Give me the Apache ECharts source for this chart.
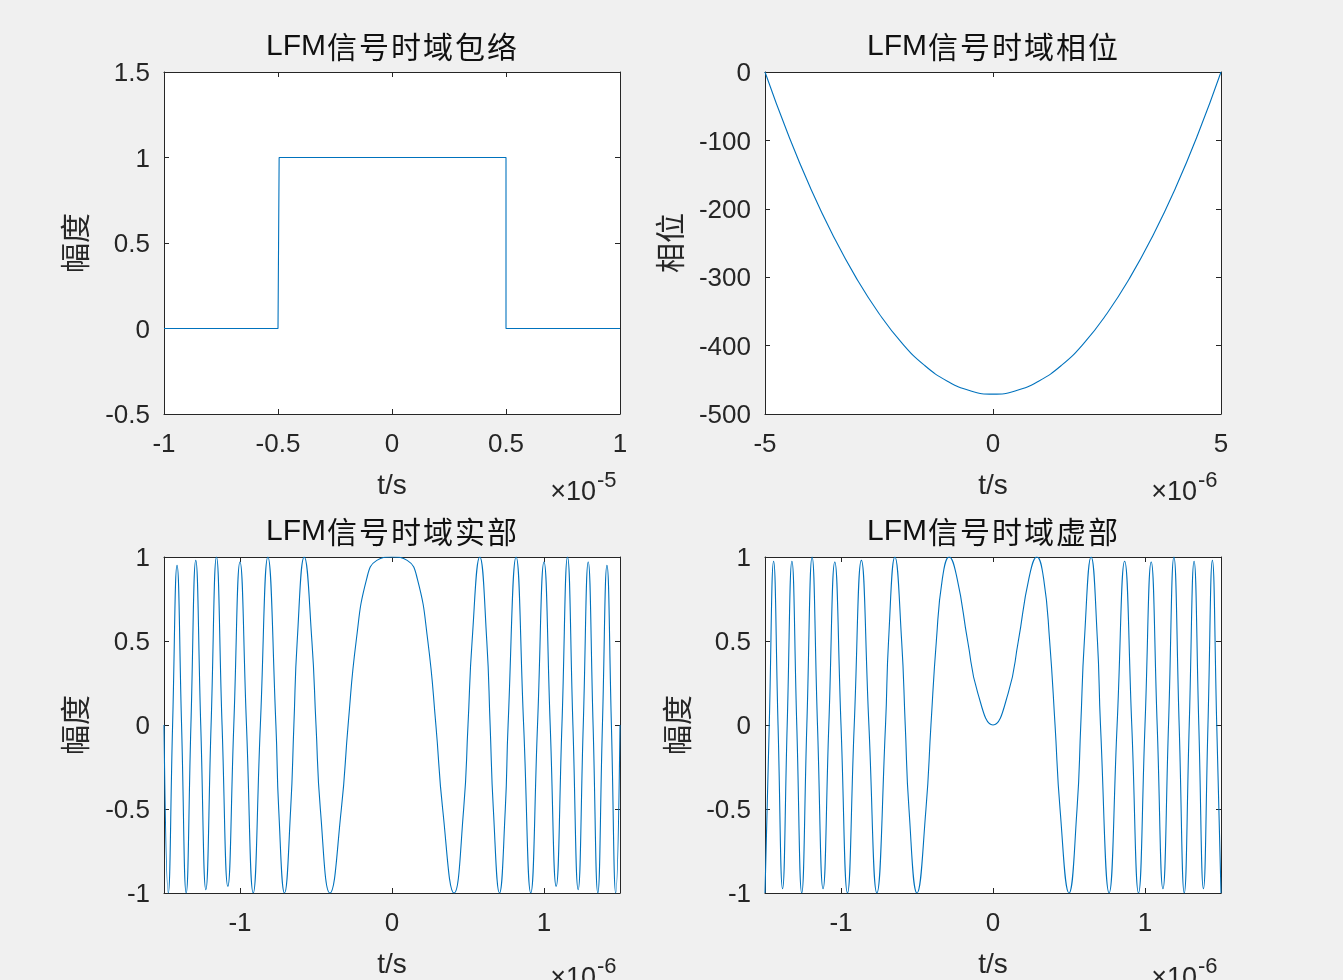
<!DOCTYPE html>
<html><head><meta charset="utf-8">
<script src="https://cdn.jsdelivr.net/npm/echarts/dist/echarts.min.js"></script>
<style>html,body{margin:0;padding:0;background:#f0f0f0;}#c{width:1343px;height:980px;}</style>
</head><body><div id="c"></div>
<script>
// ---------------- data ----------------
const titles = ['LFM信号时域包络', 'LFM信号时域相位', 'LFM信号时域实部', 'LFM信号时域虚部'];
const yNames = ['幅度', '相位', '幅度', '幅度'];
const xName = 't/s';
const expLabels = ['-5', '-6', '-6', '-6'];

// tick values
const xTicks1 = [-1, -0.5, 0, 0.5, 1];
const yTicks1 = [-0.5, 0, 0.5, 1, 1.5];
const xTicks2 = [-5, 0, 5];
const yTicks2 = [-500, -400, -300, -200, -100, 0];
const xTicks3 = [-1, 0, 1];
const yTicks3 = [-1, -0.5, 0, 0.5, 1];

// envelope (t in 1e-5 s)
const envT = [-1, -0.5, -0.495, 0.5, 0.5, 1];
const envA = [0, 0, 1, 1, 0, 0];

// phase (t in 1e-6 s)
const phaseT = [-5, -4.5, -4, -3.5, -3, -2.5, -2, -1.5, -1, -0.5, 0, 0.5, 1, 1.5, 2, 2.5, 3, 3.5, 4, 4.5, 5];
const phaseV = [0, -90, -170, -240, -301, -353, -396, -429, -452, -466, -471, -466, -452, -429, -396, -353, -301, -240, -170, -90, 0];

// real part (t in 1e-6 s): extrema, zero crossings and a few half-level points
const realT = [-1.5, -1.472, -1.4434, -1.4142, -1.3844, -1.354, -1.3229, -1.291, -1.2583, -1.2247, -1.1902, -1.1547, -1.118, -1.0801, -1.0408, -1.0, -0.9574, -0.9129, -0.866, -0.8165, -0.7638, -0.7454, -0.7071, -0.6667, -0.6455, -0.6236, -0.5774, -0.527, -0.5, -0.4714, -0.4082, -0.3333, -0.2887, -0.2357, -0.1667, -0.1,
  0,
  0.1, 0.1667, 0.2357, 0.2887, 0.3333, 0.4082, 0.4714, 0.5, 0.527, 0.5774, 0.6236, 0.6455, 0.6667, 0.7071, 0.7454, 0.7638, 0.8165, 0.866, 0.9129, 0.9574, 1.0, 1.0408, 1.0801, 1.118, 1.1547, 1.1902, 1.2247, 1.2583, 1.291, 1.3229, 1.354, 1.3844, 1.4142, 1.4434, 1.472, 1.5];
const realV = [0, -1, 0, 0.95, 0, -1, 0, 0.98, 0, -0.98, 0, 1, 0, -0.96, 0, 0.97, 0, -1, 0, 1, 0, -0.5, -1, -0.5, 0, 0.5, 1, 0.5, 0, -0.5, -1, -0.5, 0, 0.5, 0.87, 0.98,
  1,
  0.98, 0.87, 0.5, 0, -0.5, -1, -0.5, 0, 0.5, 1, 0.5, 0, -0.5, -1, -0.5, 0, 1, 0, -1, 0, 0.97, 0, -0.96, 0, 1, 0, -0.98, 0, 0.97, 0, -1, 0, 0.95, 0, -1, 0];

// imaginary part (t in 1e-6 s)
const imagT = [-1.5, -1.472, -1.4434, -1.4142, -1.3844, -1.354, -1.3229, -1.291, -1.2583, -1.2247, -1.1902, -1.1547, -1.118, -1.0801, -1.0408, -1.0, -0.9574, -0.9129, -0.866, -0.8165, -0.7638, -0.7071, -0.6872, -0.6455, -0.601, -0.5774, -0.5528, -0.5, -0.441, -0.4082, -0.3727, -0.3333, -0.2887, -0.2357, -0.1667, -0.1,
  0,
  0.1, 0.1667, 0.2357, 0.2887, 0.3333, 0.3727, 0.4082, 0.441, 0.5, 0.5528, 0.5774, 0.601, 0.6455, 0.6872, 0.7071, 0.7638, 0.8165, 0.866, 0.9129, 0.9574, 1.0, 1.0408, 1.0801, 1.118, 1.1547, 1.1902, 1.2247, 1.2583, 1.291, 1.3229, 1.354, 1.3844, 1.4142, 1.4434, 1.472, 1.5];
const imagV = [-1, 0, 0.975, 0, -0.975, 0, 0.975, 0, -1, 0, 1, 0, -0.975, 0, 0.97, 0, -1, 0, 0.98, 0, -1, 0, 0.5, 1, 0.5, 0, -0.5, -1, -0.5, 0, 0.5, 0.87, 1, 0.87, 0.5, 0.19,
  0,
  0.19, 0.5, 0.87, 1, 0.87, 0.5, 0, -0.5, -1, -0.5, 0, 0.5, 1, 0.5, 0, -1, 0, 0.975, 0, -1, 0, 0.97, 0, -0.975, 0, 1, 0, -1, 0, 0.975, 0, -0.975, 0, 0.98, 0, -1];

// ---------------- layout & style ----------------
const LAT = '"Liberation Sans", Arial, sans-serif';
const CJK = '"Noto Sans CJK SC", sans-serif';
const AX = '#262626';
const LINE = '#0072BD';
const GW = 456;
const gridPos = [{ left: 164, top: 72, h: 342 }, { left: 765, top: 72, h: 342 }, { left: 164, top: 557, h: 343 }, { left: 765, top: 557, h: 343 }];
const yGaps = [74, 80, 74, 73];

const pair = (xs, ys) => xs.map((x, i) => [x, ys[i]]);
const panels = [
  { xMin: -1, xMax: 1, xTicks: xTicks1, yMin: -0.5, yMax: 1.5, yTicks: yTicks1, data: pair(envT, envA), smooth: false },
  { xMin: -5, xMax: 5, xTicks: xTicks2, yMin: -500, yMax: 0, yTicks: yTicks2, data: pair(phaseT, phaseV), smooth: 0.5 },
  { xMin: -1.5, xMax: 1.5, xTicks: xTicks3, yMin: -1, yMax: 1, yTicks: yTicks3, data: pair(realT, realV), smooth: 0.5 },
  { xMin: -1.5, xMax: 1.5, xTicks: xTicks3, yMin: -1, yMax: 1, yTicks: yTicks3, data: pair(imagT, imagV), smooth: 0.5 }
];

function richTitle(s) {
  const m = s.match(/^[A-Za-z]+/);
  let out = m ? '{lat|' + m[0] + '}' : '';
  for (const ch of s.slice(m ? m[0].length : 0)) out += '{cjk|' + ch + '}';
  return out;
}

const grid = [], xAxis = [], yAxis = [], series = [], title = [], graphic = [];
panels.forEach((p, i) => {
  const g = gridPos[i];
  grid.push({ left: g.left, top: g.top, width: GW, height: g.h, show: true, backgroundColor: '#ffffff', borderWidth: 0, containLabel: false });
  const lineStyle = { color: AX, width: 1 };
  const tick = (vals) => ({ show: true, inside: true, length: 5, customValues: vals, lineStyle: { color: AX, width: 1 } });
  xAxis.push({
    gridIndex: i, type: 'value', position: 'bottom', min: p.xMin, max: p.xMax,
    name: xName, nameLocation: 'middle', nameGap: 58,
    nameTextStyle: { fontFamily: LAT, fontSize: 28, color: AX },
    axisLine: { show: true, onZero: false, lineStyle },
    axisTick: tick(p.xTicks),
    axisLabel: { customValues: p.xTicks, margin: 18, fontFamily: LAT, fontSize: 26, color: AX },
    splitLine: { show: false }
  });
  xAxis.push({
    gridIndex: i, type: 'value', position: 'top', min: p.xMin, max: p.xMax,
    axisLine: { show: true, onZero: false, lineStyle },
    axisTick: tick(p.xTicks), axisLabel: { show: false }, splitLine: { show: false }
  });
  yAxis.push({
    gridIndex: i, type: 'value', position: 'left', min: p.yMin, max: p.yMax,
    name: yNames[i], nameLocation: 'middle', nameGap: yGaps[i], nameRotate: 90,
    nameTextStyle: { fontFamily: CJK, fontSize: 30, color: AX },
    axisLine: { show: true, onZero: false, lineStyle },
    axisTick: tick(p.yTicks),
    axisLabel: {
      customValues: p.yTicks, margin: 14, formatter: '{v|{value}}',
      rich: { v: { fontFamily: LAT, fontSize: 26, color: AX, padding: [4, 0, 0, 0] } }
    },
    splitLine: { show: false }
  });
  yAxis.push({
    gridIndex: i, type: 'value', position: 'right', min: p.yMin, max: p.yMax,
    axisLine: { show: true, onZero: false, lineStyle },
    axisTick: tick(p.yTicks), axisLabel: { show: false }, splitLine: { show: false }
  });
  series.push({
    type: 'line', xAxisIndex: 2 * i, yAxisIndex: 2 * i, data: p.data,
    showSymbol: false, symbol: 'none', smooth: p.smooth,
    lineStyle: { color: LINE, width: 1.1 }, clip: true, animation: false
  });
  title.push({
    text: richTitle(titles[i]), left: g.left + GW / 2, top: g.top - 25, textAlign: 'center', textVerticalAlign: 'middle', padding: 0,
    textStyle: {
      fontWeight: 'normal',
      rich: {
        lat: { fontFamily: LAT, fontSize: 30, fontWeight: 'normal', color: '#111' },
        cjk: { fontFamily: CJK, fontSize: 30, fontWeight: 'normal', color: '#111', width: 32, align: 'center' }
      }
    }
  });
  const R = g.left + GW, B = g.top + g.h;
  graphic.push({
    type: 'text', x: R - 24, y: B + 79, silent: true,
    style: { text: '×10', fontFamily: LAT, fontSize: 27, fill: AX, align: 'right', verticalAlign: 'middle', textAlign: 'right', textVerticalAlign: 'middle' }
  });
  graphic.push({
    type: 'text', x: R - 23, y: B + 67, silent: true,
    style: { text: expLabels[i], fontFamily: LAT, fontSize: 22, fill: AX, align: 'left', verticalAlign: 'middle', textAlign: 'left', textVerticalAlign: 'middle' }
  });
});

const chart = echarts.init(document.getElementById('c'), null, { renderer: 'canvas' });
chart.setOption({
  backgroundColor: '#f0f0f0',
  animation: false,
  grid, xAxis, yAxis, series, title, graphic
});
</script>
</body></html>
